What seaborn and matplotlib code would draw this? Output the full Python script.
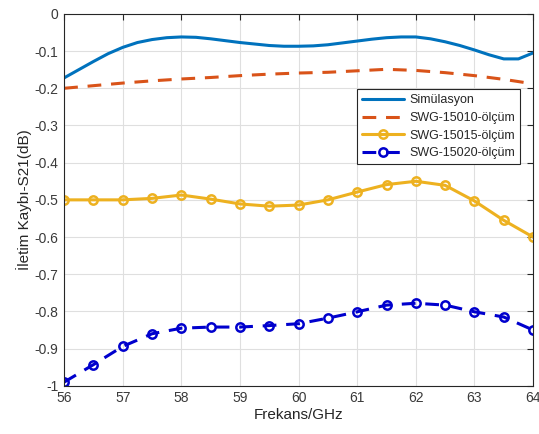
import numpy as np
import pandas as pd
import matplotlib
matplotlib.use("Agg")
import matplotlib.pyplot as plt
import seaborn as sns

# Data
sim_freq = [56, 56.25, 56.5, 56.75, 57, 57.25, 57.5, 57.75, 58, 58.25, 58.5, 58.75,
            59, 59.25, 59.5, 59.75, 60, 60.25, 60.5, 60.75, 61, 61.25, 61.5, 61.75,
            62, 62.25, 62.5, 62.75, 63, 63.25, 63.5, 63.75, 64]
sim_vals = [-0.172, -0.150, -0.128, -0.107, -0.090, -0.077, -0.069, -0.064, -0.062, -0.063,
            -0.067, -0.072, -0.077, -0.081, -0.085, -0.087, -0.087, -0.086, -0.083, -0.078,
            -0.073, -0.068, -0.064, -0.062, -0.062, -0.067, -0.075, -0.085, -0.097, -0.110,
            -0.121, -0.121, -0.105]

meas_freq = [56, 56.5, 57, 57.5, 58, 58.5, 59, 59.5, 60, 60.5, 61, 61.5, 62, 62.5, 63, 63.5, 64]
swg15010 = [-0.200, -0.193, -0.186, -0.180, -0.175, -0.171, -0.166, -0.162, -0.159,
            -0.157, -0.153, -0.149, -0.152, -0.158, -0.166, -0.176, -0.188]
swg15015 = [-0.500, -0.500, -0.500, -0.496, -0.487, -0.498, -0.511, -0.517, -0.514,
            -0.500, -0.479, -0.459, -0.450, -0.461, -0.503, -0.555, -0.600]
swg15020 = [-0.990, -0.943, -0.894, -0.860, -0.845, -0.842, -0.842, -0.838, -0.833,
            -0.818, -0.801, -0.783, -0.778, -0.783, -0.801, -0.815, -0.850]

labels = ["Simülasyon", "SWG-15010-ölçüm", "SWG-15015-ölçüm", "SWG-15020-ölçüm"]
x_ticks = [56, 57, 58, 59, 60, 61, 62, 63, 64]
y_ticks = [0, -0.1, -0.2, -0.3, -0.4, -0.5, -0.6, -0.7, -0.8, -0.9, -1]
y_ticklabels = ["0", "-0.1", "-0.2", "-0.3", "-0.4", "-0.5", "-0.6", "-0.7", "-0.8", "-0.9", "-1"]

sns.set_theme(style="whitegrid")
plt.rcParams['font.family'] = ['Liberation Sans', 'DejaVu Sans']

fig = plt.figure(figsize=(5.39, 4.34), dpi=100)
ax = fig.add_axes([0.119, 0.111, 0.870, 0.857])

df_sim = pd.DataFrame({"f": sim_freq, "v": sim_vals})
df_m = pd.DataFrame({"f": meas_freq, "a": swg15010, "b": swg15015, "c": swg15020})

dash = (0, (4.5, 3.2))
sns.lineplot(data=df_sim, x="f", y="v", ax=ax, color="#0072BD", lw=2.2, label=labels[0])
sns.lineplot(data=df_m, x="f", y="a", ax=ax, color="#D95319", lw=2.2, label=labels[1],
             linestyle=dash)
sns.lineplot(data=df_m, x="f", y="b", ax=ax, color="#EDB120", lw=2.2, label=labels[2],
             marker="o", markersize=6, markerfacecolor="none", markeredgecolor="#EDB120",
             markeredgewidth=1.8)
sns.lineplot(data=df_m, x="f", y="c", ax=ax, color="#0000CD", lw=2.2, label=labels[3],
             marker="o", markersize=6, markerfacecolor="none", markeredgecolor="#0000CD",
             markeredgewidth=1.8, linestyle=dash)

ax.set_xlim(56, 64)
ax.set_ylim(-1, 0)
ax.set_xticks(x_ticks)
ax.set_xticklabels([str(t) for t in x_ticks])
ax.set_yticks(y_ticks)
ax.set_yticklabels(y_ticklabels)
ax.set_facecolor("white")
ax.grid(True, color="#DFDFDF", lw=0.8)
for s in ax.spines.values():
    s.set_color("#262626")
    s.set_linewidth(0.8)
    s.set_visible(True)
ax.tick_params(direction="in", length=4, width=0.8, colors="#262626", labelsize=10,
               top=True, right=True, labelcolor="#3a3a3a", pad=4)
ax.set_xlabel("Frekans/GHz", fontsize=11, color="#262626", labelpad=2)
ax.set_ylabel("İletim Kaybı-S21(dB)", fontsize=11, color="#262626", labelpad=2)

leg = ax.legend(loc="upper right", bbox_to_anchor=(0.972, 0.797), fontsize=9,
                frameon=True, fancybox=False, edgecolor="#262626", framealpha=1,
                handlelength=3.4, borderpad=0.4, labelspacing=0.45, handletextpad=0.4,
                borderaxespad=0)
leg.get_frame().set_linewidth(0.8)

fig.savefig("out.png", dpi=100)
